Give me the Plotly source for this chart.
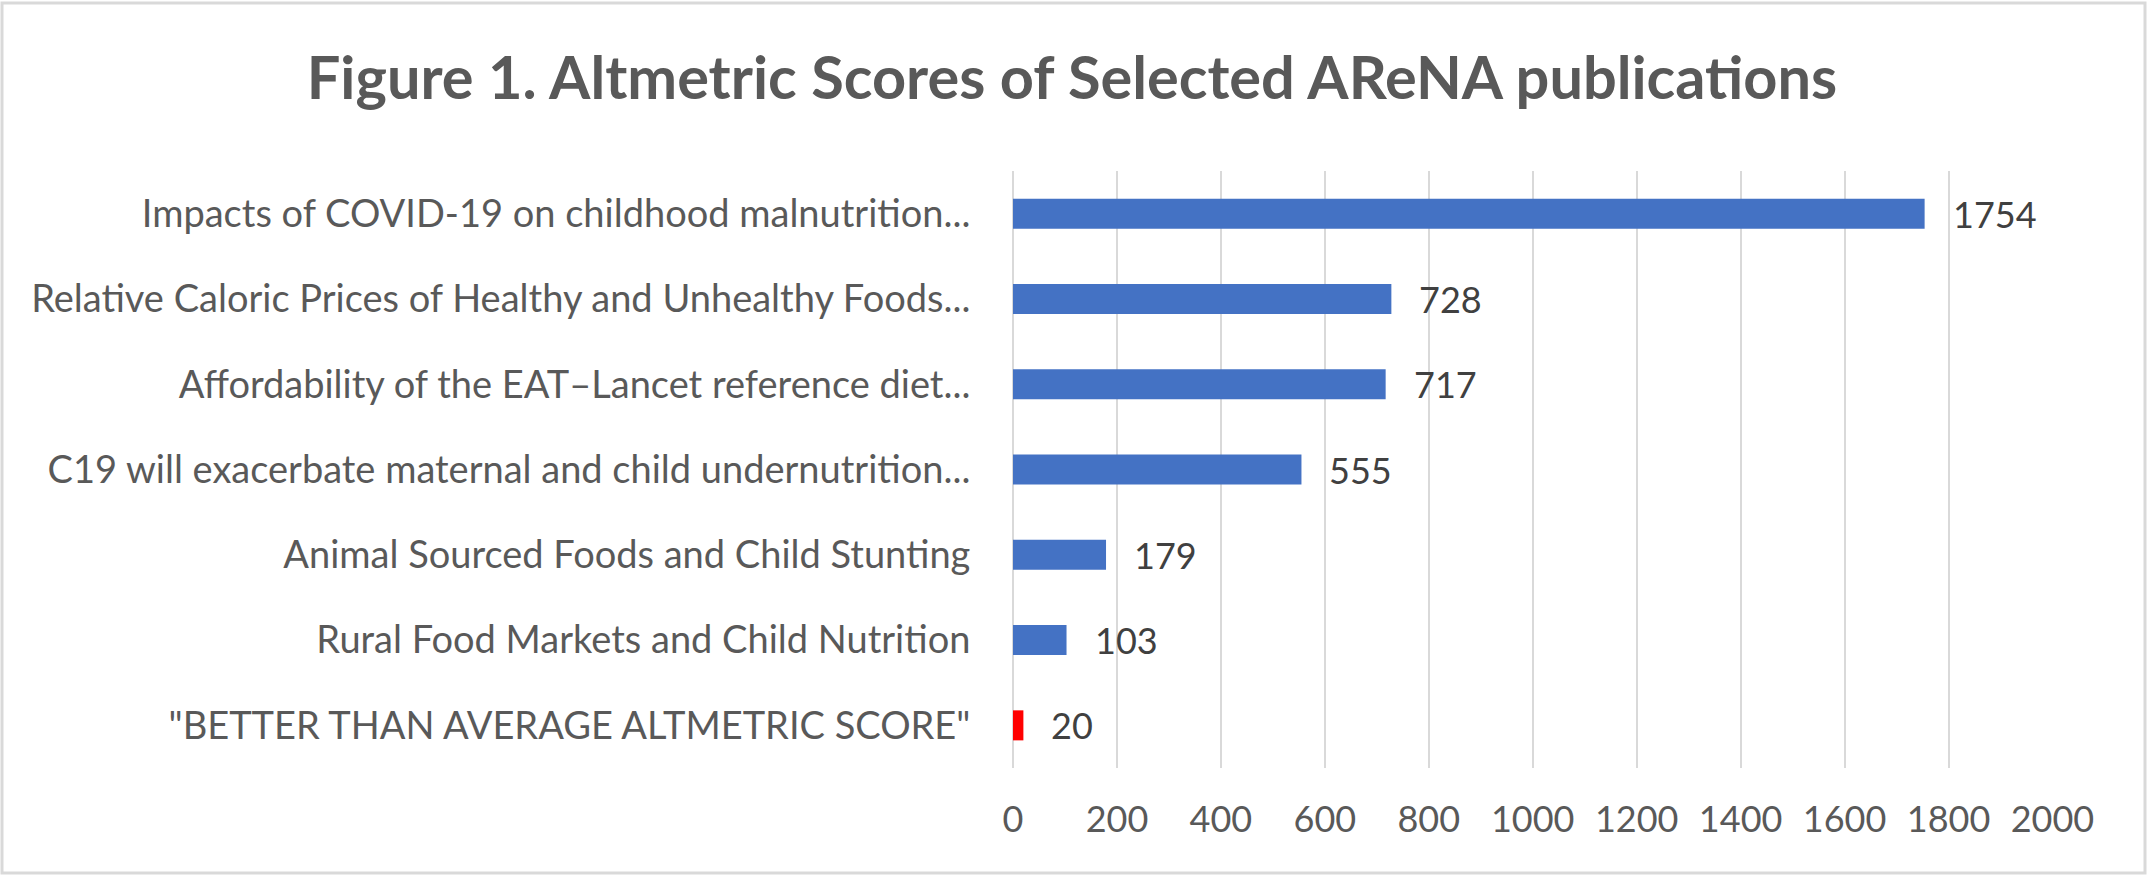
import plotly.graph_objects as go

W, H = 2147, 876

categories = [
    "Impacts of COVID-19 on childhood malnutrition...",
    "Relative Caloric Prices of Healthy and Unhealthy Foods...",
    "Affordability of the EAT\u2013Lancet reference diet...",
    "C19 will exacerbate maternal and child undernutrition...",
    "Animal Sourced Foods and Child Stunting",
    "Rural Food Markets and Child Nutrition",
    "\"BETTER THAN AVERAGE ALTMETRIC SCORE\"",
]
scores = [1754, 728, 717, 555, 179, 103, 20]
bar_colors = ["#4472C4", "#4472C4", "#4472C4", "#4472C4", "#4472C4", "#4472C4", "#FF0000"]
x_ticks = [0, 200, 400, 600, 800, 1000, 1200, 1400, 1600, 1800, 2000]
title_text = "Figure 1. Altmetric Scores of Selected AReNA publications"

FONT = "Lato"

fig = go.Figure()
fig.add_trace(go.Bar(
    x=scores, y=categories, orientation="h",
    marker=dict(color=bar_colors, line=dict(width=0)),
    hoverinfo="x+y",
))

annotations = []
for c, v in zip(categories, scores):
    annotations.append(dict(
        x=v, y=c, xref="x", yref="y", text=str(v), showarrow=False,
        xanchor="left", yanchor="middle", xshift=26,
        font=dict(family=FONT, size=36, color="#404040"),
    ))

x0, x1 = 1013, 2053
y0, y1 = 171, 768

fig.update_layout(
    width=W, height=H,
    margin=dict(l=0, r=0, t=0, b=0),
    paper_bgcolor="white", plot_bgcolor="white",
    showlegend=False,
    bargap=0.648,
    title=dict(
        text="<b>" + title_text + "</b>",
        x=1072 / W, xanchor="center", xref="paper",
        y=1 - 78 / H, yanchor="middle", yref="container",
        font=dict(family=FONT, size=59.5, color="#595959"),
    ),
    xaxis=dict(
        domain=[x0 / W, x1 / W],
        range=[0, 2001], tickvals=x_ticks,
        showgrid=True, gridcolor="#D9D9D9", gridwidth=2,
        zeroline=True, zerolinecolor="#D9D9D9", zerolinewidth=2,
        showline=False,
        ticks="outside", ticklen=20, tickcolor="rgba(0,0,0,0)",
        tickfont=dict(family=FONT, size=36, color="#595959"),
        automargin=False, fixedrange=True,
    ),
    yaxis=dict(
        domain=[1 - y1 / H, 1 - y0 / H],
        autorange="reversed",
        showgrid=False, zeroline=False, showline=False,
        ticks="outside", ticklen=34, tickcolor="rgba(0,0,0,0)",
        tickfont=dict(family=FONT, size=38, color="#595959"),
        automargin=False, fixedrange=True,
    ),
    annotations=annotations,
)

# outer chart border (paper spans the whole figure because margins are 0)
fig.add_shape(type="rect", xref="paper", yref="paper",
              x0=2 / W, x1=2145 / W,
              y0=1 - 873 / H, y1=1 - 3 / H,
              line=dict(color="#D9D9D9", width=3), layer="below")

fig.write_html(
    "out.html",
    config={"displayModeBar": False},
    post_script="document.body.style.margin='0px';document.body.style.overflow='hidden';",
)
